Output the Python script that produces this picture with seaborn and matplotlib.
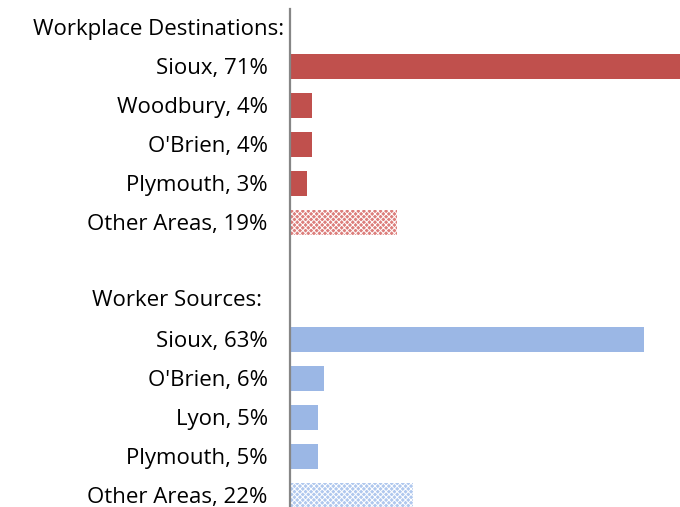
import pandas as pd
import matplotlib.pyplot as plt
import matplotlib.transforms as mtransforms
import seaborn as sns

dest_labels = ["Sioux, 71%", "Woodbury, 4%", "O'Brien, 4%", "Plymouth, 3%", "Other Areas, 19%"]
dest_values = [71, 4, 4, 3, 19]
src_labels = ["Sioux, 63%", "O'Brien, 6%", "Lyon, 5%", "Plymouth, 5%", "Other Areas, 22%"]
src_values = [63, 6, 5, 5, 22]
headers = ["Workplace Destinations:", "Worker Sources:"]

red = '#C0504D'
red_light = '#DC7E7B'
blue = '#9BB7E5'
blue_light = '#B0C8EE'

sns.set_style('white')
plt.rcParams['font.family'] = ['Open Sans', 'DejaVu Sans']
plt.rcParams['hatch.linewidth'] = 0.7

# one row per line in the chart, headers and the gap get a zero bar
keys = ['h0'] + ['d%d' % i for i in range(5)] + ['gap', 'h1'] + ['s%d' % i for i in range(5)]
values = [0] + dest_values + [0, 0] + src_values
ticklabels = [''] + dest_labels + ['', ''] + src_labels
df = pd.DataFrame({'key': keys, 'value': values})

fig = plt.figure(figsize=(6.8, 5.07), dpi=100)
ax = fig.add_axes([290 / 680, 0, 1 - 290 / 680, 1 - 9 / 507])

sns.barplot(data=df, x='value', y='key', order=keys, color=red, width=0.64,
            saturation=1, linewidth=0, ax=ax)

for key, p in zip(keys, ax.patches):
    p.set_edgecolor('none')
    if key.startswith('s'):
        p.set_facecolor(blue)
    if key == 'd4':
        p.set_facecolor(red_light)
        p.set_hatch('xxxxxx')
        p.set_edgecolor('white')
        p.set_linewidth(0)
    if key == 's4':
        p.set_facecolor(blue_light)
        p.set_hatch('xxxxxx')
        p.set_edgecolor('white')
        p.set_linewidth(0)

fs = 16
ax.set_xlim(0, 69.5)
ax.set_ylim(12.3, -0.47)
ax.set_xlabel('')
ax.set_ylabel('')
ax.set_xticks([])
ax.set_yticks(range(len(keys)))
ax.set_yticklabels(ticklabels, fontsize=fs, color='black')
ax.tick_params(axis='y', length=0, pad=16)
for s in ['top', 'right', 'bottom']:
    ax.spines[s].set_visible(False)
ax.spines['left'].set_color('#868686')
ax.spines['left'].set_linewidth(1.6)

# header rows sit a bit off the label column
trans = mtransforms.blended_transform_factory(fig.transFigure, ax.transData)
ax.text(284 / 680, 0.06, headers[0], transform=trans, ha='right', va='center',
        fontsize=fs, color='black')
ax.text(262 / 680, 7, headers[1], transform=trans, ha='right', va='center',
        fontsize=fs, color='black')

fig.savefig('out.png', dpi=100)
